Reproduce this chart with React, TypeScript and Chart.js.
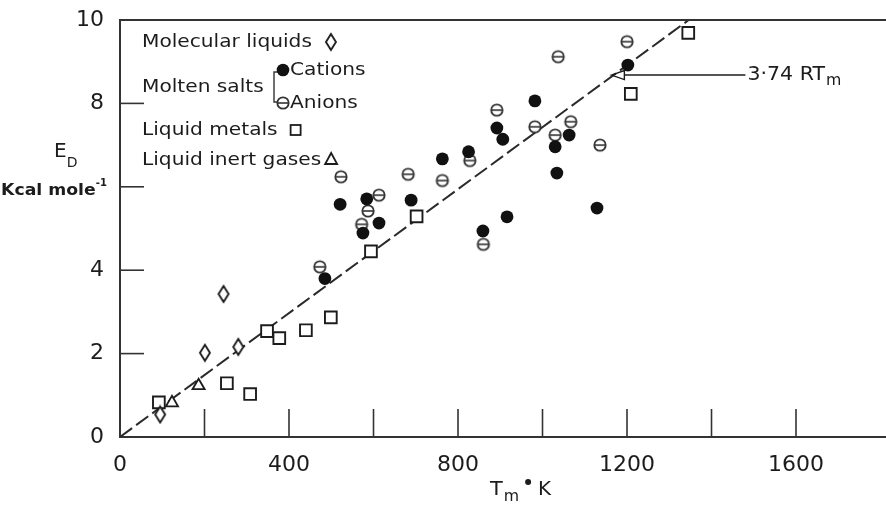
import React, { useEffect, useRef } from "react";
import { Chart, registerables } from "chart.js";
Chart.register(...registerables);

// ---- data (Tm in K, E_D in kcal/mole) ----
const MOLECULAR_T = [95, 201, 245, 280];
const MOLECULAR_E = [0.54, 2.02, 3.43, 2.16];

const CATION_T = [485, 521, 584, 575, 613, 689, 763, 825, 892, 906, 982, 1030, 1063, 1034, 1129, 916, 859, 1202];
const CATION_E = [3.8, 5.58, 5.71, 4.89, 5.13, 5.68, 6.67, 6.84, 7.41, 7.14, 8.06, 6.96, 7.24, 6.33, 5.49, 5.28, 4.94, 8.92];

const ANION_T = [473, 523, 613, 587, 572, 682, 763, 828, 860, 892, 982, 1030, 1067, 1037, 1136, 1200];
const ANION_E = [4.08, 6.24, 5.8, 5.42, 5.1, 6.3, 6.15, 6.63, 4.62, 7.84, 7.44, 7.24, 7.56, 9.12, 7.0, 9.48];

const METAL_T = [92, 253, 308, 348, 377, 440, 499, 594, 702, 1209, 1345];
const METAL_E = [0.83, 1.29, 1.03, 2.54, 2.37, 2.56, 2.87, 4.45, 5.29, 8.23, 9.69];

const GAS_T = [123, 186];
const GAS_E = [0.82, 1.23];

// dashed 3.74 RTm line
const LINE_T = [0, 1346];
const LINE_E = [0, 10];

// arrow annotation
const ANNOT_E = 8.68;
const ANNOT_TIP_T = 1163;
const ANNOT_TEXT_T = 1485;

// tick marks (inward) and labels
const X_TICK_MARKS = [200, 400, 600, 800, 1000, 1200, 1400, 1600];
const Y_TICK_MARKS = [2, 4, 6, 8];
const Y_TICK_LABELS = [0, 2, 4, 8, 10];

const INK = "#1c1c1c";
const FONT = '"DejaVu Sans", sans-serif';

const pts = (xs: number[], ys: number[]) => xs.map((x, i) => ({ x, y: ys[i] }));

function makeCanvas(w: number, h: number, draw: (c: CanvasRenderingContext2D) => void) {
  const c = document.createElement("canvas");
  c.width = w;
  c.height = h;
  const ctx = c.getContext("2d")!;
  draw(ctx);
  return c;
}

export default function App() {
  const ref = useRef<HTMLCanvasElement>(null);

  useEffect(() => {
    const anion = makeCanvas(16, 16, (c) => {
      c.fillStyle = "#fff";
      c.strokeStyle = "#333";
      c.lineWidth = 1.8;
      c.beginPath();
      c.arc(8, 8, 5.7, 0, Math.PI * 2);
      c.fill();
      c.stroke();
      c.lineWidth = 1.6;
      c.beginPath();
      c.moveTo(2.8, 8);
      c.lineTo(13.2, 8);
      c.stroke();
    });
    const diamond = makeCanvas(14, 20, (c) => {
      c.fillStyle = "#fff";
      c.strokeStyle = INK;
      c.lineWidth = 1.9;
      c.beginPath();
      c.moveTo(7, 2);
      c.lineTo(12, 10);
      c.lineTo(7, 18);
      c.lineTo(2, 10);
      c.closePath();
      c.fill();
      c.stroke();
    });

    const txt = (
      ctx: CanvasRenderingContext2D,
      s: string,
      x: number,
      y: number,
      size: number,
      stretch = 1,
      weight = "normal"
    ) => {
      ctx.save();
      ctx.font = `${weight} ${size}px ${FONT}`;
      ctx.textBaseline = "middle";
      ctx.textAlign = "left";
      ctx.fillStyle = INK;
      ctx.translate(x, y);
      ctx.scale(stretch, 1);
      ctx.fillText(s, 0, 0);
      const w = ctx.measureText(s).width * stretch;
      ctx.restore();
      return w;
    };

    const decor = {
      id: "decor",
      afterDraw(chart: any) {
        const ctx: CanvasRenderingContext2D = chart.ctx;
        const xs = chart.scales.x;
        const ys = chart.scales.y;
        const a = chart.chartArea;
        ctx.save();
        ctx.strokeStyle = "#333";
        ctx.lineWidth = 2;
        // top frame line
        ctx.beginPath();
        ctx.moveTo(a.left, a.top);
        ctx.lineTo(a.right, a.top);
        ctx.stroke();
        // inward tick marks
        ctx.lineWidth = 1.6;
        for (const v of X_TICK_MARKS) {
          const px = xs.getPixelForValue(v);
          ctx.beginPath();
          ctx.moveTo(px, a.bottom);
          ctx.lineTo(px, a.bottom - 28);
          ctx.stroke();
        }
        for (const v of Y_TICK_MARKS) {
          const py = ys.getPixelForValue(v);
          ctx.beginPath();
          ctx.moveTo(a.left, py);
          ctx.lineTo(a.left + 24, py);
          ctx.stroke();
        }

        // legend block
        const L = a.left + 22;
        let w = txt(ctx, "Molecular liquids", L, 42, 18, 1.12);
        ctx.drawImage(diamond, L + w + 12, 32);
        txt(ctx, "Molten salts", L, 87, 18, 1.12);
        ctx.lineWidth = 1.4;
        ctx.beginPath();
        ctx.moveTo(278, 72);
        ctx.lineTo(274, 72);
        ctx.lineTo(274, 102);
        ctx.lineTo(278, 102);
        ctx.stroke();
        ctx.fillStyle = "#111";
        ctx.beginPath();
        ctx.arc(283, 70, 6.3, 0, Math.PI * 2);
        ctx.fill();
        txt(ctx, "Cations", 290, 70, 18, 1.12);
        ctx.drawImage(anion, 275, 95);
        txt(ctx, "Anions", 290, 103, 18, 1.12);
        w = txt(ctx, "Liquid metals", L, 130, 18, 1.12);
        ctx.lineWidth = 1.8;
        ctx.strokeStyle = INK;
        ctx.strokeRect(L + w + 13, 125, 10, 10);
        w = txt(ctx, "Liquid inert gases", L, 160, 18, 1.12);
        ctx.beginPath();
        ctx.moveTo(L + w + 10, 153);
        ctx.lineTo(L + w + 16, 164);
        ctx.lineTo(L + w + 4, 164);
        ctx.closePath();
        ctx.stroke();

        // arrow annotation
        const tipX = xs.getPixelForValue(ANNOT_TIP_T);
        const ay = ys.getPixelForValue(ANNOT_E);
        const tx = xs.getPixelForValue(ANNOT_TEXT_T);
        ctx.lineWidth = 1.4;
        ctx.beginPath();
        ctx.moveTo(tipX, ay);
        ctx.lineTo(tipX + 13, ay - 4.5);
        ctx.lineTo(tipX + 13, ay + 4.5);
        ctx.closePath();
        ctx.stroke();
        ctx.beginPath();
        ctx.moveTo(tipX + 13, ay);
        ctx.lineTo(tx - 2, ay);
        ctx.stroke();
        w = txt(ctx, "3·74 RT", tx, ay, 19, 1.08);
        txt(ctx, "m", tx + w + 1, ay + 6, 15, 1.05);

        // x-axis title
        let x0 = 490;
        w = txt(ctx, "T", x0, 490, 19, 1.1);
        x0 += w + 1;
        w = txt(ctx, "m", x0, 497, 15, 1.05);
        x0 += w + 6;
        ctx.fillStyle = INK;
        ctx.beginPath();
        ctx.arc(x0 + 3, 482, 3, 0, Math.PI * 2);
        ctx.fill();
        x0 += 13;
        txt(ctx, "K", x0, 490, 19, 1.05);

        // y-axis title
        w = txt(ctx, "E", 54, 152, 20, 1.0);
        txt(ctx, "D", 54 + w, 163, 14, 1.0);
        w = txt(ctx, "Kcal mole", 1, 191, 16, 1.08, "bold");
        txt(ctx, "-1", 1 + w, 183, 10, 1.0, "bold");
        ctx.restore();
      },
    };

    const chart = new Chart(ref.current!, {
      type: "scatter",
      data: {
        datasets: [
          {
            label: "Cations",
            data: pts(CATION_T, CATION_E),
            pointStyle: "circle",
            pointRadius: 6.4,
            backgroundColor: "#111",
            borderColor: "#111",
            borderWidth: 0,
          },
          {
            label: "Anions",
            data: pts(ANION_T, ANION_E),
            pointStyle: anion,
            pointRadius: 8,
          },
          {
            label: "Molecular liquids",
            data: pts(MOLECULAR_T, MOLECULAR_E),
            pointStyle: diamond,
            pointRadius: 8,
          },
          {
            label: "Liquid metals",
            data: pts(METAL_T, METAL_E),
            pointStyle: "rect",
            pointRadius: 8.3,
            backgroundColor: "#fff",
            borderColor: INK,
            borderWidth: 1.9,
          },
          {
            label: "Liquid inert gases",
            data: pts(GAS_T, GAS_E),
            pointStyle: "triangle",
            pointRadius: 7,
            backgroundColor: "#fff",
            borderColor: INK,
            borderWidth: 1.8,
          },
          {
            label: "3.74 RTm",
            data: pts(LINE_T, LINE_E),
            showLine: true,
            pointRadius: 0,
            borderColor: "#2a2a2a",
            borderWidth: 2,
            borderDash: [15, 5],
          },
        ],
      },
      options: {
        animation: false,
        responsive: false,
        maintainAspectRatio: false,
        layout: { autoPadding: false, padding: { top: 20, right: 0, left: 0, bottom: 0 } },
        plugins: { legend: { display: false }, tooltip: { enabled: false } },
        scales: {
          x: {
            type: "linear",
            min: 0,
            max: 1813,
            afterFit: (s: any) => {
              s.height = 69;
              s.paddingRight = 0;
              s.paddingLeft = 0;
            },
            grid: { display: false, drawTicks: false },
            border: { display: true, color: "#333", width: 2 },
            ticks: {
              stepSize: 400,
              autoSkip: false,
              includeBounds: false,
              maxRotation: 0,
              padding: 15,
              color: INK,
              font: { family: FONT, size: 22 },
              callback: (v: any) => String(v),
            },
          },
          y: {
            type: "linear",
            min: 0,
            max: 10,
            afterFit: (s: any) => {
              s.width = 120;
              s.paddingTop = 0;
              s.paddingBottom = 0;
            },
            grid: { display: false, drawTicks: false },
            border: { display: true, color: "#333", width: 2 },
            ticks: {
              stepSize: 2,
              padding: 16,
              color: INK,
              font: { family: FONT, size: 22 },
              callback: (v: any) => (Y_TICK_LABELS.includes(Number(v)) ? String(v) : ""),
            },
          },
        },
      },
      plugins: [decor],
    } as any);
    return () => chart.destroy();
  }, []);

  return (
    <div style={{ position: "fixed", left: 0, top: 0, width: 886, height: 506, background: "#fff" }}>
      <canvas ref={ref} width={886} height={506} style={{ display: "block" }} />
    </div>
  );
}
